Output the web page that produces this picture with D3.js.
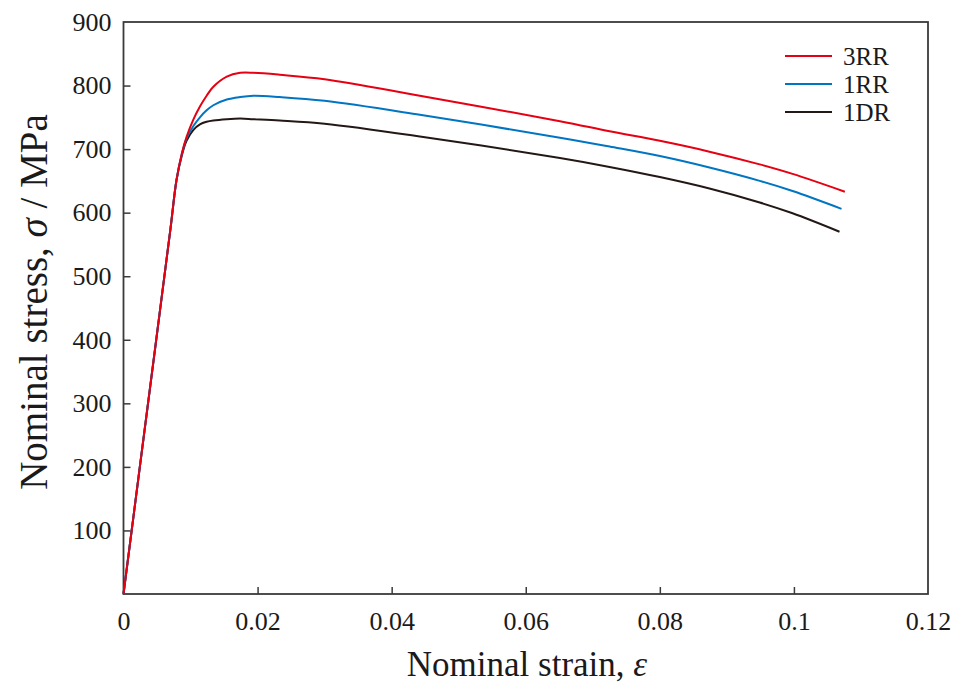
<!DOCTYPE html>
<html><head><meta charset="utf-8">
<script src="https://cdn.jsdelivr.net/npm/d3@7"></script>
<style>
html,body{margin:0;padding:0;background:#fff;}
text{font-family:"Liberation Serif","Times New Roman",serif;fill:#1a1a1a;}
</style></head>
<body>
<svg id="chart" width="961" height="689"></svg>
<script>
// ---- data (strain, stress MPa) ----
const strain3RR = [0, 0.004, 0.0070, 0.0079, 0.0087, 0.0094, 0.0104, 0.0114, 0.0124, 0.0134, 0.0154, 0.0174, 0.0194, 0.0233, 0.0300, 0.0442, 0.0651, 0.0725, 0.0800, 0.0874, 0.0949, 0.0998, 0.1076];
const stress3RR = [0, 328, 574, 651, 693, 719, 746, 767, 784, 798, 814, 820, 820, 817, 810, 784, 744, 728, 713, 696, 676, 661, 633];
const strain1RR = [0, 0.004, 0.0070, 0.0079, 0.0087, 0.0094, 0.0104, 0.0114, 0.0124, 0.0134, 0.0154, 0.0174, 0.0194, 0.0233, 0.0300, 0.0442, 0.0651, 0.0725, 0.0800, 0.0874, 0.0949, 0.0998, 0.1071];
const stress1RR = [0, 328, 574, 651, 692, 717, 736, 750, 761, 769, 778, 782, 784, 782, 776, 754, 718, 704, 689, 671, 650, 634, 606];
const strain1DR = [0, 0.004, 0.0070, 0.0079, 0.0087, 0.0094, 0.0104, 0.0114, 0.0124, 0.0134, 0.0154, 0.0174, 0.0194, 0.0233, 0.0300, 0.0442, 0.0651, 0.0725, 0.0800, 0.0874, 0.0949, 0.0998, 0.1068];
const stress1DR = [0, 328, 574, 651, 690, 713, 730, 739, 743, 745, 747, 748, 747, 745, 740, 720, 686, 672, 656, 638, 616, 599, 570];
const seriesNames = ["3RR", "1RR", "1DR"];
const seriesColors = ["#e60012", "#0075c2", "#231815"];
const xTicks = [0, 0.02, 0.04, 0.06, 0.08, 0.1, 0.12];
const xTickLabels = ["0", "0.02", "0.04", "0.06", "0.08", "0.1", "0.12"];
const yTicks = [100, 200, 300, 400, 500, 600, 700, 800, 900];

const series = [
  {name: seriesNames[0], color: seriesColors[0], pts: strain3RR.map((s,i)=>[s, stress3RR[i]])},
  {name: seriesNames[1], color: seriesColors[1], pts: strain1RR.map((s,i)=>[s, stress1RR[i]])},
  {name: seriesNames[2], color: seriesColors[2], pts: strain1DR.map((s,i)=>[s, stress1DR[i]])}
];

const svg = d3.select("#chart");
const L = 123.5, R = 928, T = 22, B = 594;
const x = d3.scaleLinear().domain([0, 0.12]).range([L, R]);
const y = d3.scaleLinear().domain([0, 900]).range([B, T]);

const frameColor = "#3a3a3a";
const tickFont = 26;

// x axis
const xAxis = d3.axisBottom(x).tickValues(xTicks)
  .tickFormat((d,i)=>xTickLabels[i]).tickSizeInner(-7).tickSizeOuter(0).tickPadding(18);
const gx = svg.append("g").attr("transform", `translate(0,${B})`).call(xAxis);
gx.select(".domain").remove();
gx.selectAll(".tick line").attr("stroke", frameColor).attr("stroke-width", 1.5);
gx.selectAll(".tick text").attr("font-size", tickFont).attr("font-family", "Liberation Serif").attr("fill", "#1a1a1a");
gx.selectAll(".tick").filter(d=>d===0||d===0.12).select("line").remove();

// y axis
const yAxis = d3.axisLeft(y).tickValues(yTicks).tickSizeInner(-7).tickSizeOuter(0).tickPadding(12);
const gy = svg.append("g").attr("transform", `translate(${L},0)`).call(yAxis);
gy.select(".domain").remove();
gy.selectAll(".tick line").attr("stroke", frameColor).attr("stroke-width", 1.5);
gy.selectAll(".tick text").attr("font-size", tickFont).attr("font-family", "Liberation Serif").attr("fill", "#1a1a1a");
gy.selectAll(".tick").filter(d=>d===900).select("line").remove();

// frame
svg.append("rect").attr("x", L).attr("y", T).attr("width", R-L).attr("height", B-T)
  .attr("fill", "none").attr("stroke", frameColor).attr("stroke-width", 1.8);

// lines
const line = d3.line().x(d=>x(d[0])).y(d=>y(d[1])).curve(d3.curveCatmullRom.alpha(0.5));
[...series].reverse().forEach(s=>{
  svg.append("path").datum(s.pts).attr("d", line)
    .attr("fill", "none").attr("stroke", s.color).attr("stroke-width", 2);
});

// legend
const lg = svg.append("g");
series.forEach((s,i)=>{
  const yy = 56 + i*28;
  lg.append("line").attr("x1", 785).attr("x2", 832).attr("y1", yy).attr("y2", yy)
    .attr("stroke", s.color).attr("stroke-width", 2);
  lg.append("text").attr("x", 843).attr("y", yy).attr("dy", "0.35em")
    .attr("font-size", 25).text(s.name);
});

// axis titles
const xt = svg.append("text").attr("x", 527).attr("y", 676).attr("text-anchor", "middle")
  .attr("font-size", 35);
xt.append("tspan").text("Nominal strain, ");
xt.append("tspan").attr("font-style", "italic").text("ε");

const yt = svg.append("text").attr("transform", `translate(47,302) rotate(-90)`)
  .attr("text-anchor", "middle").attr("font-size", 39);
yt.append("tspan").text("Nominal stress, ");
yt.append("tspan").attr("font-style", "italic").text("σ");
yt.append("tspan").text(" / MPa");
</script>
</body></html>
